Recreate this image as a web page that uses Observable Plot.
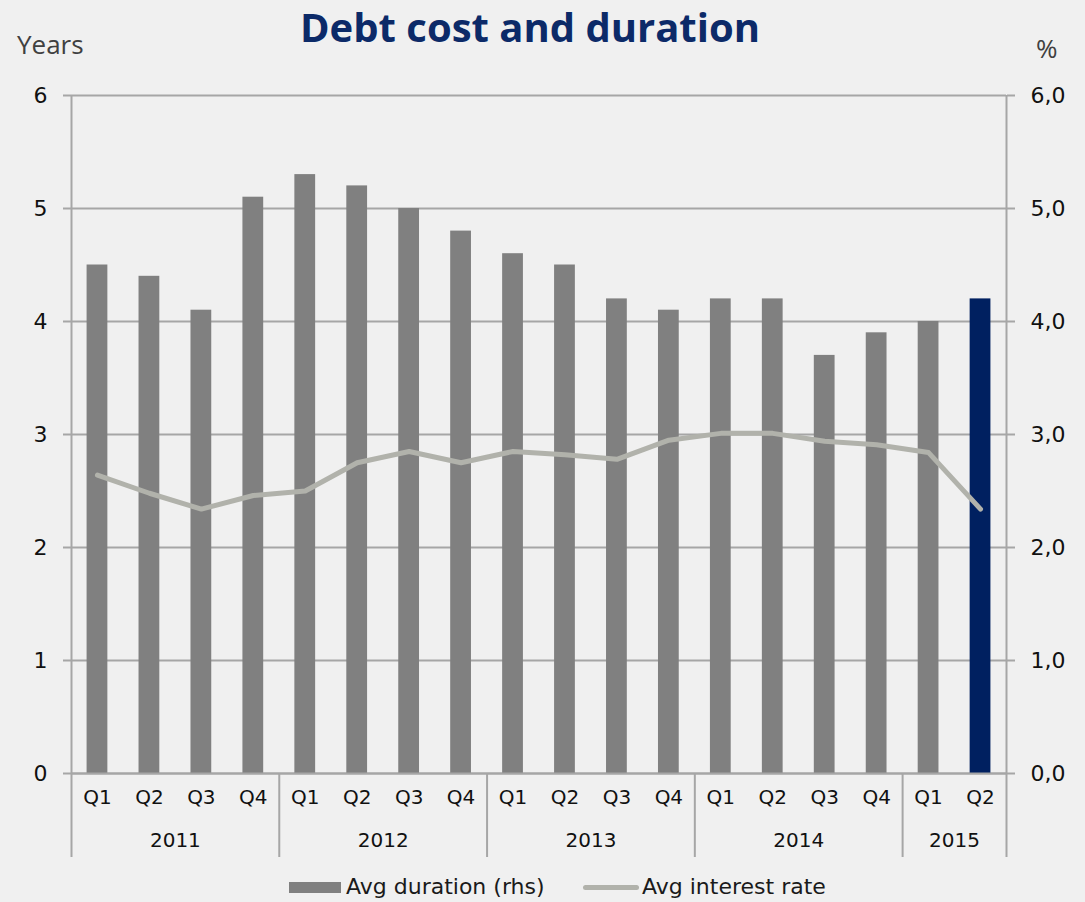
<!DOCTYPE html>
<html>
<head>
<meta charset="utf-8">
<script src="https://cdn.jsdelivr.net/npm/d3@7"></script>
<script src="https://cdn.jsdelivr.net/npm/@observablehq/plot@0.6"></script>
<style>
  html, body { margin: 0; padding: 0; background: #f0f0f0; }
  #wrap { position: relative; width: 1085px; height: 902px; overflow: hidden; background: #f0f0f0; }
  #title { position: absolute; left: 0; width: 1060px; top: 7px; line-height: 1; text-align: center; font-family: "Open Sans", sans-serif; font-weight: 700; font-size: 40px; color: #0c2a68; }
  .unit { position: absolute; font-family: "Open Sans", sans-serif; font-size: 26px; line-height: normal; color: #404040; }
  #legend { position: absolute; top: 874px; left: 0; width: 1085px; font-family: "DejaVu Sans", sans-serif; font-size: 22px; line-height: 26px; color: #1a1a1a; }
  #legend .item { position: absolute; top: 0; display: flex; align-items: center; height: 26px; white-space: nowrap; }
  #legend .sw { display: inline-block; }
</style>
</head>
<body>
<div id="wrap">
  <div id="title">Debt cost and duration</div>
  <div class="unit" style="left:17px; top:26px;">Years</div>
  <div class="unit" style="left:1036px; top:30px;">%</div>
  <div id="chart"></div>
  <div id="legend">
    <div class="item" style="left:289px;"><span class="sw" style="width:52px;height:11px;margin-right:5px;background:#808080;"></span>Avg duration (rhs)</div>
    <div class="item" style="left:583px;"><span class="sw" style="width:56px;height:5px;margin-right:3px;border-radius:3px;background:#b1b2ab;"></span>Avg interest rate</div>
  </div>
</div>
<script>
const years = ["2011","2011","2011","2011","2012","2012","2012","2012","2013","2013","2013","2013","2014","2014","2014","2014","2015","2015"];
const quarters = ["Q1","Q2","Q3","Q4","Q1","Q2","Q3","Q4","Q1","Q2","Q3","Q4","Q1","Q2","Q3","Q4","Q1","Q2"];
const avgDuration = [4.5, 4.4, 4.1, 5.1, 5.3, 5.2, 5.0, 4.8, 4.6, 4.5, 4.2, 4.1, 4.2, 4.2, 3.7, 3.9, 4.0, 4.2];
const avgInterestRate = [2.64, 2.48, 2.34, 2.46, 2.50, 2.75, 2.85, 2.75, 2.85, 2.82, 2.78, 2.95, 3.01, 3.01, 2.94, 2.91, 2.84, 2.34];
const yTicks = [0, 1, 2, 3, 4, 5, 6];
const yearList = ["2011","2012","2013","2014","2015"];

const data = years.map((y, i) => ({key: y + "-" + quarters[i], year: y, q: quarters[i], dur: avgDuration[i], rate: avgInterestRate[i], last: i === years.length - 1}));
const keys = data.map(d => d.key);

const W = 1085, H = 902, mL = 71, mR = 79, mT = 95, mB = 129;
const step = (W - mL - mR) / keys.length;

const groups = yearList.map(y => {
  const ks = data.filter(d => d.year === y).map(d => d.key);
  return {year: y, first: ks[0], mid: ks[Math.floor(ks.length / 2)]};
});
const innerSeps = groups.slice(1).map(g => ({key: g.first}));

const grey = "#a6a6a6";
const chart = Plot.plot({
  width: W, height: H,
  marginLeft: mL, marginRight: mR, marginTop: mT, marginBottom: mB,
  style: {background: "transparent", fontFamily: "DejaVu Sans, sans-serif", fontSize: "20px", color: "#111"},
  x: {type: "band", domain: keys, paddingInner: 0.6, paddingOuter: 0.3, round: false, axis: null},
  y: {domain: [0, 6], axis: null},
  marks: [
    Plot.gridY(yTicks, {stroke: grey, strokeOpacity: 1, strokeWidth: 2}),
    Plot.barY(data, {x: "key", y: "dur", fill: d => d.last ? "#002060" : "#808080"}),
    Plot.line(data, {x: "key", y: "rate", stroke: "#b1b2ab", strokeWidth: 5, strokeLinecap: "round", strokeLinejoin: "round"}),
    Plot.ruleY([0], {stroke: grey, strokeWidth: 2}),
    Plot.axisY({anchor: "left", ticks: yTicks, tickSize: 8, tickPadding: 16, stroke: grey, strokeWidth: 2, fill: "#111", fontSize: 22, tickFormat: d => String(d), label: null}),
    Plot.axisY({anchor: "right", ticks: yTicks, tickSize: 8, tickPadding: 16, stroke: grey, strokeWidth: 2, fill: "#111", fontSize: 22, tickFormat: d => d.toFixed(1).replace(".", ","), label: null}),
    Plot.ruleX([keys[0]], {x: d => d, y1: 6, y2: 0, insetBottom: -84, dx: -step / 2, stroke: grey, strokeWidth: 2}),
    Plot.ruleX([keys[keys.length - 1]], {x: d => d, y1: 6, y2: 0, insetBottom: -84, dx: step / 2, stroke: grey, strokeWidth: 2}),
    Plot.ruleX(innerSeps, {x: "key", y1: 0, y2: 0, insetBottom: -84, dx: -step / 2, stroke: grey, strokeWidth: 2}),
    Plot.text(data, {x: "key", text: "q", frameAnchor: "bottom", dy: 30, fill: "#111", fontSize: 20}),
    Plot.text(groups, {x: "mid", text: "year", frameAnchor: "bottom", dy: 73, dx: -step / 2, fill: "#111", fontSize: 20})
  ]
});
document.getElementById("chart").appendChild(chart);
</script>
</body>
</html>
